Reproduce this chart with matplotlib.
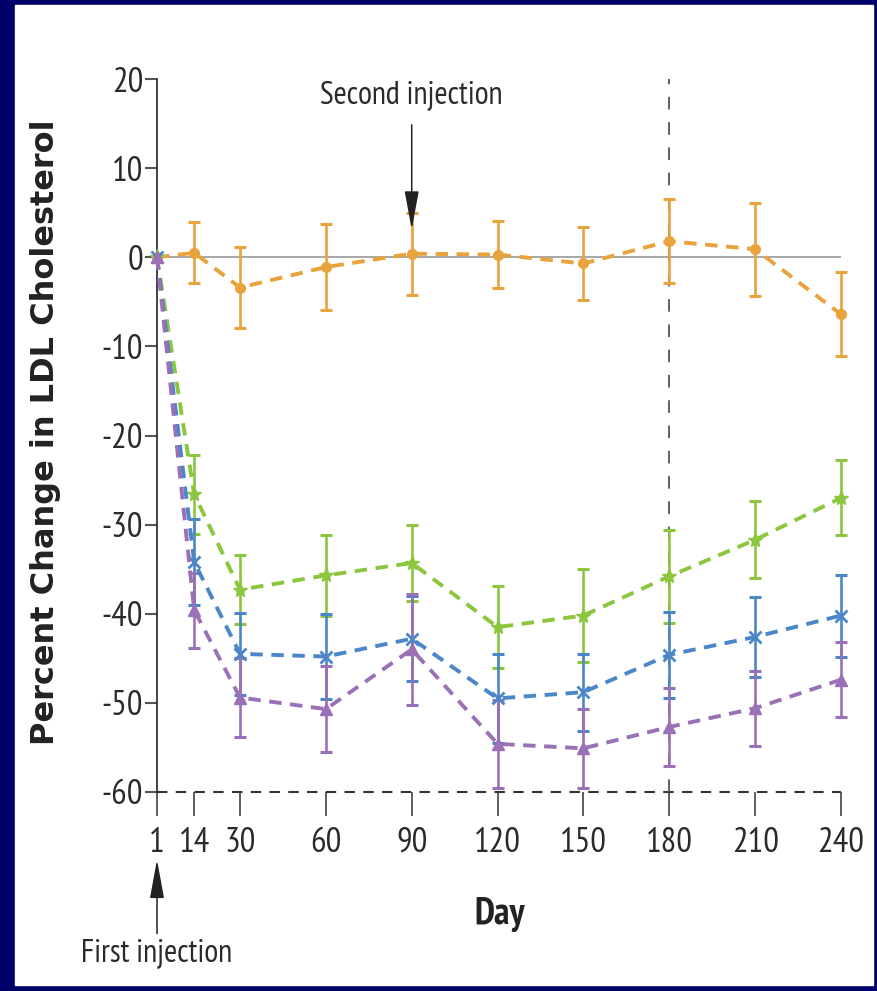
import numpy as np
import matplotlib
matplotlib.use("Agg")
import matplotlib.pyplot as plt
from matplotlib.patches import Rectangle

# condensed face to match the journal style; falls back to DejaVu if absent
plt.rcParams['font.family'] = ['PT Sans Narrow', 'Roboto Condensed', 'DejaVu Sans']

# study days and mean percent change (+/- error) per group
days = [1, 14, 30, 60, 90, 120, 150, 180, 210, 240]

placebo = [0, 0.5, -3.4, -1.1, 0.4, 0.3, -0.7, 1.8, 0.9, -6.4]
placebo_err = [0, 3.4, 4.5, 4.8, 4.6, 3.8, 4.1, 4.7, 5.2, 4.7]

green = [0, -26.6, -37.3, -35.7, -34.3, -41.5, -40.2, -35.8, -31.7, -27.0]
green_err = [0, 4.4, 3.9, 4.5, 4.3, 4.6, 5.2, 5.2, 4.3, 4.2]

blue = [0, -34.2, -44.5, -44.8, -42.8, -49.5, -48.8, -44.6, -42.6, -40.2]
blue_err = [0, 4.8, 4.6, 4.8, 4.8, 5.0, 4.3, 4.8, 4.5, 4.6]

purple = [0, -39.6, -49.4, -50.7, -44.0, -54.6, -55.1, -52.7, -50.6, -47.4]
purple_err = [0, 4.2, 4.4, 4.8, 6.2, 4.9, 4.4, 4.4, 4.2, 4.2]

yticks = [-60, -50, -40, -30, -20, -10, 0, 10, 20]

W, H = 877, 991
fig = plt.figure(figsize=(W / 100, H / 100), dpi=100, facecolor='#00006a')
fig.patches.append(Rectangle((15 / W, 6 / H), 858 / W, 980 / H,
                             transform=fig.transFigure, color='white', zorder=-1))

# axes box: day 1 at x=157, day 240 at x=841, 20 at y=79, -60 at y=792
ax = fig.add_axes([157 / W, (H - 792) / H, 684 / W, 713 / H])
ax.set_facecolor('none')
ax.set_xlim(1, 240)
ax.set_ylim(-60, 20)

for s in ['top', 'right', 'bottom']:
    ax.spines[s].set_visible(False)
ax.spines['left'].set_color('#222222')
ax.spines['left'].set_linewidth(1.2)

ax.axhline(0, color='#a0a0a0', lw=1.3, zorder=1)
ax.axhline(-60, color='#333333', lw=1.5, ls=(0, (5, 4)), zorder=1, clip_on=False)
ax.axvline(180, color='#555555', lw=1.3, ls=(0, (7, 7)), zorder=1)

series = [
    (placebo, placebo_err, '#e8a33c', 'o', 7),
    (green, green_err, '#8cc63f', '*', 11),
    (blue, blue_err, '#4a86c8', 'x', 9),
    (purple, purple_err, '#9a70b6', '^', 8),
]
for vals, errs, col, mk, ms in series:
    ax.errorbar(days[1:], vals[1:], yerr=errs[1:], fmt='none', ecolor=col,
                elinewidth=1.9, capsize=4.5, capthick=2.2, zorder=3, clip_on=False)
    ax.plot(days, vals, color=col, lw=2.8, ls=(0, (3.2, 2.2)), marker=mk,
            ms=ms, mew=2 if mk == 'x' else 1, zorder=4, clip_on=False)

ax.set_xticks(days)
ax.set_xticklabels([str(d) for d in days])
ax.set_yticks(yticks)
ax.set_yticklabels([str(v) for v in yticks])
ax.tick_params(axis='x', direction='out', length=17, width=1.1, color='#333333',
               pad=8, labelsize=25, labelcolor='#2a2a2a')
ax.tick_params(axis='y', direction='out', length=9, width=1.5, color='#555555',
               pad=1, labelsize=25, labelcolor='#2a2a2a')

ax.set_ylabel('Percent Change in LDL Cholesterol', fontsize=23, fontweight='bold',
              family='DejaVu Sans', color='#222222')
ax.yaxis.set_label_coords(-0.14, 0.505)

ax.text(0.501, -0.1725, 'Day', transform=ax.transAxes, ha='center', va='center',
        fontsize=27, fontweight='bold', color='#222222')

arrow = dict(arrowstyle='-|>,head_length=1.2,head_width=0.22', color='#222222',
             lw=1.1, mutation_scale=20, shrinkA=8, shrinkB=0)
ax.annotate('Second injection', xy=(90, 3.1), xytext=(90, 18.1), ha='center',
            va='center', fontsize=23, color='#2a2a2a', arrowprops=arrow,
            annotation_clip=False)
ax.annotate('First injection', xy=(1, -67.6), xytext=(1, -78.2), ha='center',
            va='center', fontsize=23, color='#2a2a2a',
            arrowprops=dict(arrow, shrinkA=2), annotation_clip=False)

fig.savefig('out.png', dpi=100, facecolor=fig.get_facecolor())
